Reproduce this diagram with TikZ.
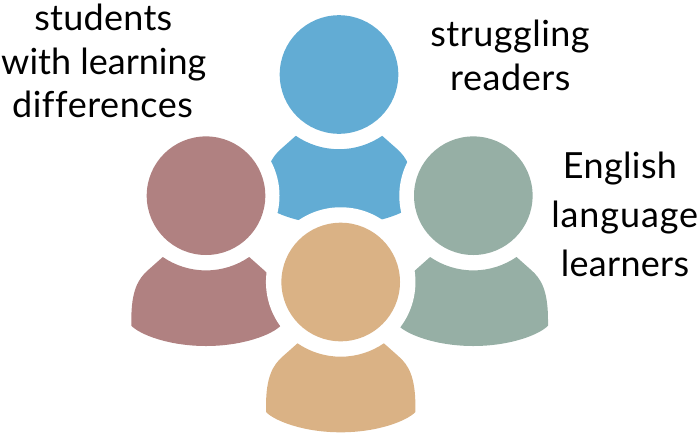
\documentclass[tikz,border=0pt]{standalone}
\usepackage{fontspec}
\setmainfont[Ligatures=NoCommon]{Lato}
\definecolor{pblue}{HTML}{62ACD4}
\definecolor{pbrown}{HTML}{B08181}
\definecolor{pgreen}{HTML}{96AFA5}
\definecolor{porange}{HTML}{DAB285}
\tikzset{
  lbl/.style={anchor=base,inner sep=0pt,font=\fontsize{36}{40}\selectfont\addfontfeature{LetterSpace=#1},text=black},
  lbl/.default=0,
  head/.style={circle,inner sep=0pt,minimum size=118.6pt},
  halo/.style={circle,fill=white,inner sep=0pt}
}
\newcommand{\personbody}[3]{%
  \begin{scope}[shift={(#1,#2)}]
  \fill[#3] (-43.2,61.3)
    .. controls (-31,69.7) and (-16,74.7) .. (0,74.7)
    .. controls (16,74.7) and (31,69.7) .. (43.2,61.3)
    -- (57.5,74)
    .. controls (68,83) and (74.7,95) .. (74.7,124.5)
    -- (74.7,130)
    .. controls (66,139) and (37,150.3) .. (0,150.3)
    .. controls (-37,150.3) and (-66,139) .. (-74.7,130)
    -- (-74.7,124.5)
    .. controls (-74.7,95) and (-68,83) .. (-57.5,74)
    -- cycle;
  \end{scope}
}
\begin{document}
\begin{tikzpicture}[x=1pt,y=-1pt]
\useasboundingbox (0,0) rectangle (700,434);
% blue person
\personbody{339}{74.5}{pblue}
\node[head,fill=pblue] (bluehead) at (339,74.5) {};
% brown person
\node[halo,minimum size=147pt] (brownhalo) at (206,195.7) {};
\personbody{206}{195.7}{pbrown}
\node[head,fill=pbrown] (brownhead) at (206,195.7) {};
% green person
\node[halo,minimum size=148pt] (greenhalo) at (473.3,195.7) {};
\personbody{473.3}{195.7}{pgreen}
\node[head,fill=pgreen] (greenhead) at (473.3,195.7) {};
% orange person
\node[halo,minimum size=149.5pt] (orangehalo) at (340.7,282) {};
\personbody{340.7}{282}{porange}
\node[head,fill=porange] (orangehead) at (340.7,282) {};
% labels
\node[lbl=0.7] (t1) at (103.3,30) {students};
\node[lbl=0] (t2) at (103.8,74.5) {with learning};
\node[lbl=1.5] (t3) at (102.5,117.5) {differences};
\node[lbl=1.3] (t4) at (510,46.5) {struggling};
\node[lbl=1.6] (t5) at (510.3,90.5) {readers};
\node[lbl=1] (t6) at (620,178) {English};
\node[lbl=2.5] (t7) at (624.7,227) {language};
\node[lbl=0.8] (t8) at (625,276) {learners};
\end{tikzpicture}
\end{document}
